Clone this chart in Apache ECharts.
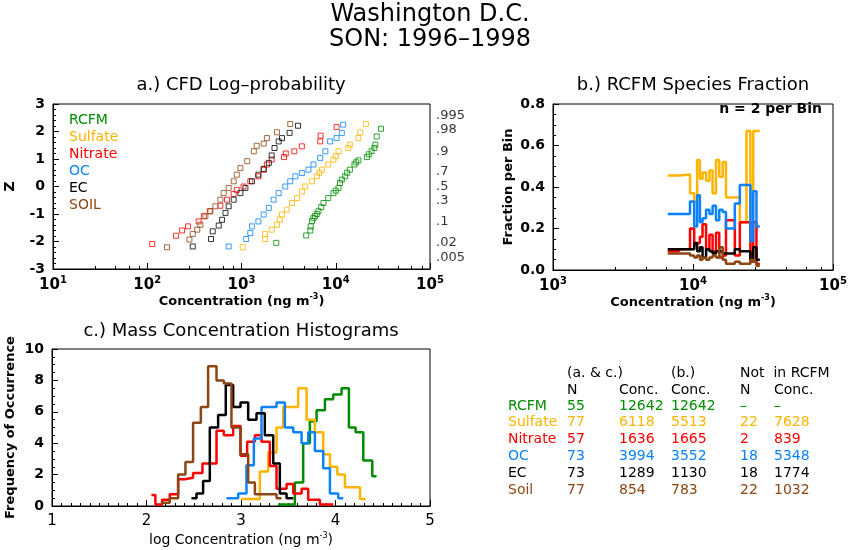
<!DOCTYPE html>
<html>
<head>
<meta charset="utf-8">
<script src="https://cdn.jsdelivr.net/npm/echarts@6/dist/echarts.min.js"></script>
<style>html,body{margin:0;background:#fff}#chart{width:860px;height:550px}</style>
</head>
<body>
<div id="chart"></div>
<script>
const species = ["RCFM", "Sulfate", "Nitrate", "OC", "EC", "SOIL"];
const colors = ["#008c00", "#ffb400", "#ff0000", "#0a82ff", "#000000", "#8c4614"];

// a.) CFD log-probability: [concentration, z]
const cfdRCFM = [[2340,-2.05],[4860,-1.78],[5370,-1.6],[5430,-1.45],[5600,-1.25],[5800,-1.15],[6030,-1.08],[6300,-1.0],[6560,-0.9],[7000,-0.75],[7410,-0.6],[8320,-0.42],[9460,-0.24],[10000,-0.15],[10700,-0.05],[11100,0.13],[11600,0.25],[12600,0.37],[13200,0.5],[14100,0.61],[15800,0.8],[16500,0.88],[17400,0.95],[21400,1.07],[22400,1.17],[24000,1.28],[25700,1.4],[26300,1.52],[27200,1.82],[30200,2.1]];
const cfdSulfate = [[1030,-2.21],[1780,-1.91],[1780,-1.73],[2090,-1.57],[2380,-1.39],[2550,-1.2],[2690,-1.02],[3020,-0.84],[3430,-0.6],[3890,-0.42],[4370,-0.18],[4740,0.0],[5580,0.19],[6310,0.37],[6700,0.5],[7130,0.61],[8320,0.8],[9460,0.98],[10000,1.1],[10700,1.28],[13600,1.4],[14100,1.52],[17400,1.76],[18200,1.97],[20900,2.27]];
const cfdNitrate = [[113,-2.09],[202,-1.79],[234,-1.6],[271,-1.45],[351,-1.27],[398,-1.08],[460,-0.9],[597,-0.7],[702,-0.48],[826,-0.27],[891,-0.12],[1050,0.0],[1240,0.19],[1510,0.37],[1720,0.61],[1860,0.8],[2090,0.98],[2820,1.07],[2950,1.2],[3630,1.28],[4370,1.46],[6840,1.64],[6920,1.85],[10200,2.16]];
const cfdOC = [[731,-2.18],[1120,-1.91],[1240,-1.69],[1290,-1.45],[1510,-1.27],[1720,-1.02],[1950,-0.78],[2190,-0.48],[2480,-0.24],[2910,0.0],[3290,0.19],[3720,0.37],[4370,0.49],[5130,0.61],[5800,0.8],[6840,1.04],[7760,1.28],[8710,1.64],[10200,1.76],[11600,1.95],[12000,2.25]];
const cfdEC = [[304,-2.18],[475,-1.91],[495,-1.63],[573,-1.42],[622,-1.21],[676,-0.96],[731,-0.72],[826,-0.48],[973,-0.24],[1100,-0.05],[1290,0.19],[1510,0.43],[1720,0.64],[1950,0.86],[2090,1.13],[2240,1.4],[2480,1.64],[2690,1.76],[3240,1.95],[3980,2.21]];
const cfdSoil = [[162,-2.21],[280,-1.93],[304,-1.73],[339,-1.57],[366,-1.39],[414,-1.08],[468,-0.9],[528,-0.72],[597,-0.48],[646,-0.24],[731,-0.05],[826,0.19],[891,0.43],[973,0.67],[1150,0.92],[1350,1.28],[1450,1.48],[1720,1.56],[1860,1.76],[2380,1.97],[3290,2.27]];
const cfdAll = [cfdRCFM, cfdSulfate, cfdNitrate, cfdOC, cfdEC, cfdSoil];

const probLabels = [".995", ".98", ".9", ".7", ".5", ".3", ".1", ".02", ".005"];
const probZ = [2.576, 2.054, 1.282, 0.524, 0, -0.524, -1.282, -2.054, -2.576];

// b.) species fraction per bin (bin edges in ng m-3)
const binEdges = [6600,7940,9520,10200,10700,11200,11700,12400,13100,13800,14600,15400,16300,17200,19900,21600,24100,25700,26900,28400,30000];
const fracSulfate = [0.455,0.46,0.37,0.33,0.53,0.44,0.47,0.43,0.48,0.37,0.53,0.45,0.52,0.35,0.35,0.23,0.67,0.23,0.67,0.67];
const fracNitrate = [0.09,0.10,0.20,0.12,0.13,0.16,0.22,0.10,0.17,0.09,0.18,0.06,0.07,0.24,0.07,0.23,0.23,0.04,0.23,0.03];
const fracOC = [0.27,0.27,0.33,0.21,0.36,0.23,0.25,0.29,0.27,0.31,0.24,0.29,0.28,0.20,0.32,0.41,0.41,0.14,0.38,0.21];
const fracEC = [0.10,0.10,0.10,0.13,0.09,0.11,0.06,0.10,0.09,0.08,0.09,0.09,0.08,0.08,0.10,0.09,0.09,0.05,0.11,0.05];
const fracSoil = [0.08,0.08,0.07,0.06,0.07,0.05,0.06,0.05,0.06,0.07,0.06,0.11,0.05,0.03,0.04,0.03,0.03,0.05,0.04,0.02];
const fracAll = [null, fracSulfate, fracNitrate, fracOC, fracEC, fracSoil];

// c.) histograms: edges (log conc) and frequencies
const histRCFM = {e:[3.394,3.57,3.658,3.729,3.8,3.888,3.976,4.064,4.142,4.213,4.294,4.389,4.435], f:[0.1,1.5,4.0,5.4,6.1,6.8,7.1,7.5,5.0,4.7,2.9,1.9]};
const histSulfate = {e:[2.998,3.199,3.288,3.376,3.447,3.605,3.694,3.782,3.87,3.941,4.019,4.1,4.259,4.319], f:[0.45,2.2,3.4,5.0,6.3,7.5,5.5,4.7,3.3,2.5,2.0,1.2,0.45]};
const histNitrate = {e:[2.052,2.094,2.165,2.246,2.335,2.405,2.493,2.592,2.741,2.818,2.917,2.995,3.065,3.147,3.217,3.305,3.376,3.482,3.553,3.641,3.711,3.835,3.976], f:[0.7,0.1,0.4,0.75,1.7,1.8,2.1,2.7,4.8,4.5,5.1,3.2,4.1,4.5,4.1,2.55,1.1,1.4,0.8,1.1,0.4,0.1]};
const histOC = {e:[2.846,2.97,3.058,3.136,3.217,3.376,3.464,3.553,3.641,3.711,3.782,3.87,3.941,4.029,4.082], f:[0.5,0.8,2.6,4.3,6.3,6.6,5.0,4.7,4.0,4.7,3.5,2.4,0.8,0.5]};
const histEC = {e:[2.476,2.529,2.599,2.67,2.758,2.839,2.917,2.995,3.076,3.164,3.252,3.341,3.411,3.482,3.553], f:[0.5,0.8,1.6,5.0,5.8,7.7,6.3,6.6,5.5,5.9,4.5,2.7,0.8,0.5]};
const histSoil = {e:[2.158,2.246,2.335,2.412,2.493,2.575,2.652,2.741,2.818,2.899,2.995,3.076,3.147,3.376,3.429], f:[0.2,0.5,2.0,2.8,5.3,6.3,8.9,8.0,7.8,5.0,3.3,1.5,0.75,0.5]};
const histAll = [histRCFM, histSulfate, histNitrate, histOC, histEC, histSoil];

// table
const tableNames = ["RCFM", "Sulfate", "Nitrate", "OC", "EC", "Soil"];
const tableN = ["55", "77", "57", "73", "73", "77"];
const tableConcAC = ["12642", "6118", "1636", "3994", "1289", "854"];
const tableConcB = ["12642", "5513", "1665", "3552", "1130", "783"];
const tableNotN = ["\u2013", "22", "2", "18", "18", "22"];
const tableNotConc = ["\u2013", "7628", "839", "5348", "1774", "1032"];

const FONT = "DejaVu Sans";
const pow10 = v => {
  const e = Math.round(Math.log10(v));
  return "{b|10}{s|" + e + "}";
};
const powRich = { b: { fontSize: 15, fontFamily: FONT, color: "#000" }, s: { fontSize: 10, fontFamily: FONT, color: "#000", verticalAlign: "top", padding: [0, 0, 10, 0] } };
const concName = "{n|Concentration (ng m}{s|-3}{n|)}";
const nameRich = { n: { fontSize: 13, fontWeight: "bold", fontFamily: FONT }, s: { fontSize: 8, fontWeight: "bold", fontFamily: FONT, padding: [0, 0, 8, 0] } };

const stepData = (edges, vals) => {
  const d = vals.map((v, i) => [edges[i], v]);
  d.push([edges[edges.length - 1], vals[vals.length - 1]]);
  return d;
};

const baseAxis = {
  axisLine: { onZero: false, lineStyle: { color: "#000", width: 1 } },
  axisTick: { inside: true, length: 6, lineStyle: { color: "#000" } },
  minorTick: { show: true, length: 3, lineStyle: { color: "#000" } },
  splitLine: { show: false },
  axisLabel: { color: "#000", fontFamily: FONT, fontWeight: "bold", fontSize: 14 }
};

const chart = echarts.init(document.getElementById("chart"));
const series = [];
cfdAll.forEach((d, i) => series.push({
  type: "scatter", xAxisIndex: 0, yAxisIndex: 0, data: d, symbol: "rect", symbolSize: 5,
  itemStyle: { color: "transparent", borderColor: colors[i], borderWidth: 1 }, silent: true
}));
series.push({
  type: "scatter", xAxisIndex: 0, yAxisIndex: 0, symbolSize: 0, silent: true,
  data: probZ.map((z, i) => ({ value: [1e5, z], name: probLabels[i] })),
  label: { show: true, position: "right", distance: 6, formatter: p => p.name, color: "#000", fontFamily: FONT, fontSize: 13 }
});
fracAll.forEach((f, i) => { if (f) series.push({
  type: "line", xAxisIndex: 1, yAxisIndex: 1, step: "end", data: stepData(binEdges, f), showSymbol: false,
  lineStyle: { color: colors[i], width: 2.5 }, silent: true
}); });
histAll.forEach((h, i) => series.push({
  type: "line", xAxisIndex: 2, yAxisIndex: 2, step: "end", data: stepData(h.e, h.f), showSymbol: false,
  lineStyle: { color: colors[i], width: 2.5 }, silent: true
}));

const titleStyle = { fontFamily: FONT, fontSize: 18, fill: "#000" };
const graphic = [
  { type: "text", left: "center", top: 3, style: { text: "Washington D.C.", font: "24px " + FONT, fill: "#000" } },
  { type: "text", left: "center", top: 28, style: { text: "SON: 1996\u20131998", font: "24px " + FONT, fill: "#000" } },
  { type: "text", x: 241, y: 76, style: Object.assign({ text: "a.) CFD Log\u2013probability", align: "center" }, titleStyle) },
  { type: "text", x: 693, y: 76, style: Object.assign({ text: "b.) RCFM Species Fraction", align: "center" }, titleStyle) },
  { type: "text", x: 241, y: 322, style: Object.assign({ text: "c.) Mass Concentration Histograms", align: "center" }, titleStyle) },
  { type: "text", x: 822, y: 102, style: { text: "n = 2 per Bin", align: "right", font: "bold 14px " + FONT, fill: "#000" } }
];
species.forEach((s, i) => graphic.push({ type: "text", x: 69, y: 113 + i * 17, style: { text: s, font: "14px " + FONT, fill: colors[i] } }));
graphic.push({ type: "text", x: 567, y: 366, style: { text: "(a. & c.)", font: "14px " + FONT, fill: "#000" } });
graphic.push({ type: "text", x: 671, y: 366, style: { text: "(b.)", font: "14px " + FONT, fill: "#000" } });
graphic.push({ type: "text", x: 740, y: 366, style: { text: "Not  in RCFM", font: "14px " + FONT, fill: "#000" } });
[["N", 567], ["Conc.", 619], ["Conc.", 671], ["N", 740], ["Conc.", 774]].forEach(h =>
  graphic.push({ type: "text", x: h[1], y: 383, style: { text: h[0], font: "14px " + FONT, fill: "#000" } }));
const cols = [[tableNames, 508], [tableN, 567], [tableConcAC, 619], [tableConcB, 671], [tableNotN, 740], [tableNotConc, 774]];
tableNames.forEach((n, r) => cols.forEach(c =>
  graphic.push({ type: "text", x: c[1], y: 399 + r * 16.8, style: { text: c[0][r], font: "14px " + FONT, fill: colors[r] } })));

chart.setOption({
  animation: false,
  grid: [
    { left: 53, top: 104, width: 377, height: 165, show: true, borderColor: "#000", borderWidth: 1 },
    { left: 553, top: 104, width: 280, height: 166, show: true, borderColor: "#000", borderWidth: 1 },
    { left: 52, top: 349, width: 378, height: 157, show: true, borderColor: "#000", borderWidth: 1 }
  ],
  xAxis: [
    Object.assign({}, baseAxis, { gridIndex: 0, type: "log", logBase: 10, min: 10, max: 1e5,
      axisLabel: Object.assign({}, baseAxis.axisLabel, { formatter: pow10, rich: powRich, margin: 6 }),
      name: concName, nameLocation: "middle", nameGap: 20, nameTextStyle: { rich: nameRich } }),
    Object.assign({}, baseAxis, { gridIndex: 1, type: "log", logBase: 10, min: 1e3, max: 1e5,
      axisLabel: Object.assign({}, baseAxis.axisLabel, { formatter: pow10, rich: powRich, margin: 6 }),
      name: concName, nameLocation: "middle", nameGap: 21, nameTextStyle: { rich: nameRich } }),
    Object.assign({}, baseAxis, { gridIndex: 2, type: "value", min: 1, max: 5, interval: 1,
      minorTick: { show: true, splitNumber: 10, length: 3, lineStyle: { color: "#000" } },
      axisLabel: Object.assign({}, baseAxis.axisLabel, { fontWeight: "normal", fontSize: 15, margin: 8 }),
      name: "{n|log Concentration (ng m}{s|-3}{n|)}", nameLocation: "middle", nameGap: 26,
      nameTextStyle: { rich: { n: { fontSize: 14, fontFamily: FONT }, s: { fontSize: 8, fontFamily: FONT, padding: [0, 0, 8, 0] } } } })
  ],
  yAxis: [
    Object.assign({}, baseAxis, { gridIndex: 0, type: "value", min: -3, max: 3, interval: 1,
      minorTick: { show: true, splitNumber: 5, length: 3, lineStyle: { color: "#000" } },
      name: "Z", nameLocation: "middle", nameGap: 36, nameTextStyle: { fontFamily: FONT, fontWeight: "bold", fontSize: 14 } }),
    Object.assign({}, baseAxis, { gridIndex: 1, type: "value", min: 0, max: 0.8, interval: 0.2,
      minorTick: { show: true, splitNumber: 4, length: 3, lineStyle: { color: "#000" } },
      axisLabel: Object.assign({}, baseAxis.axisLabel, { formatter: v => v.toFixed(1) }),
      name: "Fraction per Bin", nameLocation: "middle", nameGap: 38, nameTextStyle: { fontFamily: FONT, fontWeight: "bold", fontSize: 13 } }),
    Object.assign({}, baseAxis, { gridIndex: 2, type: "value", min: 0, max: 10, interval: 2,
      minorTick: { show: true, splitNumber: 4, length: 3, lineStyle: { color: "#000" } },
      name: "Frequency of Occurrence", nameLocation: "middle", nameGap: 35, nameTextStyle: { fontFamily: FONT, fontWeight: "bold", fontSize: 13 } })
  ],
  series: series,
  graphic: graphic
});
</script>
</body>
</html>
